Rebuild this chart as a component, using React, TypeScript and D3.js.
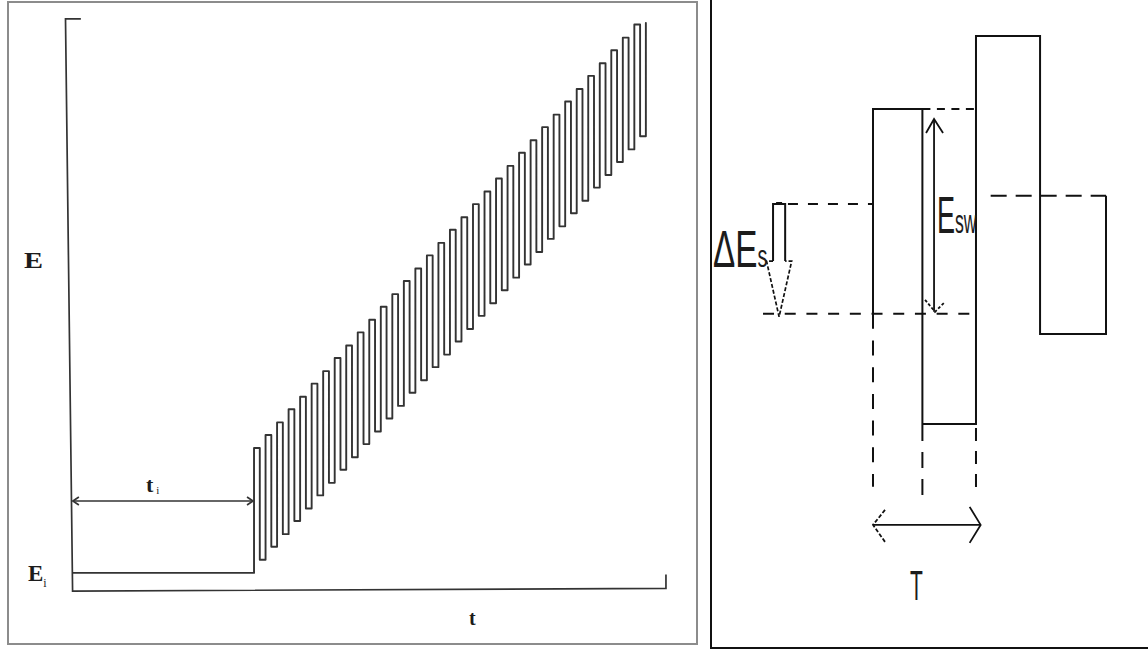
import React from "react";
import * as d3 from "d3";

// ---------- Left panel data (arbitrary units) ----------
const forwardE = [24.9, 27.2, 29.4, 31.7, 33.9, 36.2, 38.4, 40.7, 42.9, 45.2, 47.4, 49.7, 51.9, 54.2, 56.4, 58.7, 60.9, 63.2, 65.4, 67.7, 69.9, 72.2, 74.4, 76.7, 78.9, 81.2, 83.4, 85.7, 87.9, 90.2, 92.4, 94.7, 96.9, 99.2];
const reverseE = [5.3, 7.6, 9.8, 12.1, 14.3, 16.6, 18.8, 21.1, 23.3, 25.6, 27.8, 30.1, 32.3, 34.6, 36.8, 39.1, 41.3, 43.6, 45.8, 48.1, 50.3, 52.6, 54.8, 57.1, 59.3, 61.6, 63.8, 66.1, 68.3, 70.6, 72.8, 75.1, 77.3, 79.6];
const tInit = 30.8;
const stepPeriod = 1.95;
const eInit = 3;
const eEnd = 99.5;

// ---------- Right panel data ----------
const pulseTimes = [0, 21.2, 44.2, 71.7, 100];
const pulseLevels = [81.2, 0, 100, 23.2];
const stepTop = 56.7;
const stepBottom = 28.4;
const secondStep = 58.8;

export default function App() {
  const xL = d3.scaleLinear().domain([0, 100]).range([72, 663]);
  const yL = d3.scaleLinear().domain([0, 100]).range([590, 20]);
  const xR = d3.scaleLinear().domain([0, 100]).range([873, 1106]);
  const yR = d3.scaleLinear().domain([0, 100]).range([424, 36]);

  const pts: [number, number][] = [[0.2, eInit], [tInit, eInit]];
  forwardE.forEach((f, k) => {
    const t0 = tInit + k * stepPeriod;
    const h = stepPeriod / 2;
    pts.push([t0, f], [t0 + h, f], [t0 + h, reverseE[k]], [t0 + stepPeriod, reverseE[k]]);
  });
  pts.push([tInit + forwardE.length * stepPeriod, eEnd]);
  const lineL = d3.line<[number, number]>().x(d => xL(d[0])).y(d => yL(d[1]));
  const wave = lineL(pts) || "";

  const lineR = d3.line<[number, number]>().x(d => xR(d[0])).y(d => yR(d[1]));
  const sq: [number, number][] = [
    [pulseTimes[0], stepBottom],
    [pulseTimes[0], pulseLevels[0]],
    [pulseTimes[1], pulseLevels[0]],
    [pulseTimes[1], pulseLevels[1]],
    [pulseTimes[2], pulseLevels[1]],
    [pulseTimes[2], pulseLevels[2]],
    [pulseTimes[3], pulseLevels[2]],
    [pulseTimes[3], pulseLevels[3]],
    [pulseTimes[4], pulseLevels[3]],
    [pulseTimes[4], secondStep],
  ];
  const sqPath = lineR(sq) || "";

  const ink = "#333";
  const txt = "#1c1c1c";
  const serif = "'Liberation Serif', 'DejaVu Serif', serif";
  const sans = "'Liberation Sans', Arial, sans-serif";

  const ax = -40.3, sw = 2.6, hw = 5.4, shaftBot = 42.0;
  const esX = 26.2;

  return (
    <svg width={1148} height={650} style={{ position: "absolute", left: 0, top: 0, background: "#fff" }}>
      <rect x={0} y={0} width={1148} height={650} fill="#fff" />
      <rect x={8} y={2} width={689} height={642} fill="none" stroke="#8c8c8c" strokeWidth={2} />
      <path d={`M${xL(1.5)},${yL(100.2)} L${xL(-1.1)},${yL(100.2)} L${xL(0.1)},${yL(-0.2)} L${xL(100.5)},${yL(0.3)} L${xL(100.5)},${yL(2.7)}`}
        fill="none" stroke={ink} strokeWidth={1.7} />
      <path d={wave} fill="none" stroke={ink} strokeWidth={1.9} strokeLinejoin="round" strokeLinecap="round" />
      <g stroke={ink} strokeWidth={1.7} fill="none">
        <line x1={xL(0.15)} y1={501} x2={xL(tInit) - 1} y2={501} />
        <path d={`M${xL(0.15) + 6},${497} L${xL(0.15)},501 L${xL(0.15) + 6},505`} />
        <path d={`M${xL(tInit) - 7},${497} L${xL(tInit) - 1},501 L${xL(tInit) - 7},505`} />
      </g>
      <text x={24} y={268} fontFamily={serif} fontWeight="bold" fontSize={23} fill={txt} textLength={19} lengthAdjust="spacingAndGlyphs">E</text>
      <text x={28} y={581} fontFamily={serif} fontWeight="bold" fontSize={23} fill={txt}>
        E<tspan fontSize={12} fontWeight="normal" dy={6}>i</tspan>
      </text>
      <text x={146} y={492} fontFamily={serif} fontWeight="bold" fontSize={22} fill={txt}>
        t<tspan fontSize={11} fontWeight="normal" dx={3} dy={2}>i</tspan>
      </text>
      <text x={469} y={625} fontFamily={serif} fontWeight="bold" fontSize={20} fill={txt}>t</text>

      <path d="M711,0 L711,648 L1148,648" fill="none" stroke="#111" strokeWidth={2} />
      <path d={sqPath} fill="none" stroke="#111" strokeWidth={2} />

      <g stroke="#111" strokeWidth={2} fill="none">
        <line x1={xR(-36.5)} y1={yR(stepTop)} x2={xR(0)} y2={yR(stepTop)} strokeDasharray="10 10" />
        <line x1={xR(-47.2)} y1={yR(stepBottom)} x2={xR(pulseTimes[2])} y2={yR(stepBottom)} strokeDasharray="11 10.7" />
        <line x1={xR(pulseTimes[1])} y1={yR(pulseLevels[0])} x2={xR(pulseTimes[2])} y2={yR(pulseLevels[0])} strokeDasharray="8 6.5" />
        <line x1={xR(50.5)} y1={yR(secondStep)} x2={xR(pulseTimes[4])} y2={yR(secondStep)} strokeDasharray="16 9" />
        <line x1={xR(pulseTimes[0])} y1={yR(stepBottom)} x2={xR(pulseTimes[0])} y2={yR(-16.2)} strokeDasharray="15 11.7" />
        <line x1={xR(pulseTimes[1])} y1={yR(pulseLevels[1]) + 1} x2={xR(pulseTimes[1])} y2={yR(-18.8)} strokeDasharray="16 11" />
        <line x1={xR(pulseTimes[2])} y1={yR(pulseLevels[1]) + 4} x2={xR(pulseTimes[2])} y2={yR(-17)} strokeDasharray="13 10" />
      </g>

      <path d={`M${xR(ax - sw)},${yR(shaftBot)} L${xR(ax - sw)},${yR(stepTop)} L${xR(ax + sw)},${yR(stepTop)} L${xR(ax + sw)},${yR(shaftBot)}`}
        fill="none" stroke="#111" strokeWidth={2} />
      <path d={`M${xR(ax - sw)},${yR(shaftBot)} L${xR(ax - hw)},${yR(shaftBot)} L${xR(ax)},${yR(stepBottom) + 3} L${xR(ax + hw)},${yR(shaftBot)} L${xR(ax + sw)},${yR(shaftBot)}`}
        fill="none" stroke="#111" strokeWidth={1.7} strokeDasharray="4 2" />
      <rect x={xR(ax) - 3} y={yR(stepTop) - 2} width={6} height={3} fill="#111" />

      <g stroke="#111" strokeWidth={1.8} fill="none">
        <line x1={xR(esX)} y1={yR(pulseLevels[0]) + 10} x2={xR(esX)} y2={yR(stepBottom) - 2} />
        <path d={`M${xR(esX) - 8},${yR(pulseLevels[0]) + 24} L${xR(esX)},${yR(pulseLevels[0]) + 10} L${xR(esX) + 9},${yR(pulseLevels[0]) + 24}`} />
        <path d={`M${xR(esX) - 9},${yR(stepBottom) - 14} L${xR(esX) + 1},${yR(stepBottom) - 2} L${xR(esX) + 10},${yR(stepBottom) - 11}`} strokeDasharray="3 2" />
      </g>

      <g stroke="#111" strokeWidth={1.8} fill="none">
        <line x1={xR(0) + 1} y1={yR(-26)} x2={xR(46.2)} y2={yR(-26)} />
        <path d={`M${xR(0) + 12},${yR(-26) - 15} L${xR(0)},${yR(-26)} L${xR(0) + 12},${yR(-26) + 17}`} strokeDasharray="4 2" />
        <path d={`M${xR(46.2) - 11},${yR(-26) - 18} L${xR(46.2)},${yR(-26)} L${xR(46.2) - 11},${yR(-26) + 18}`} />
      </g>

      <text transform="translate(713,267) scale(0.64,1)" fontFamily={sans} fontSize={52} fill={txt}>
        ΔE<tspan fontSize={31}>s</tspan>
      </text>
      <text transform="translate(937,233) scale(0.52,1)" fontFamily={sans} fontSize={52} fill={txt}>
        E<tspan fontSize={34}>sw</tspan>
      </text>
      <text transform="translate(910,600) scale(0.5,1)" fontFamily={sans} fontSize={42} fill={txt}>T</text>
    </svg>
  );
}
